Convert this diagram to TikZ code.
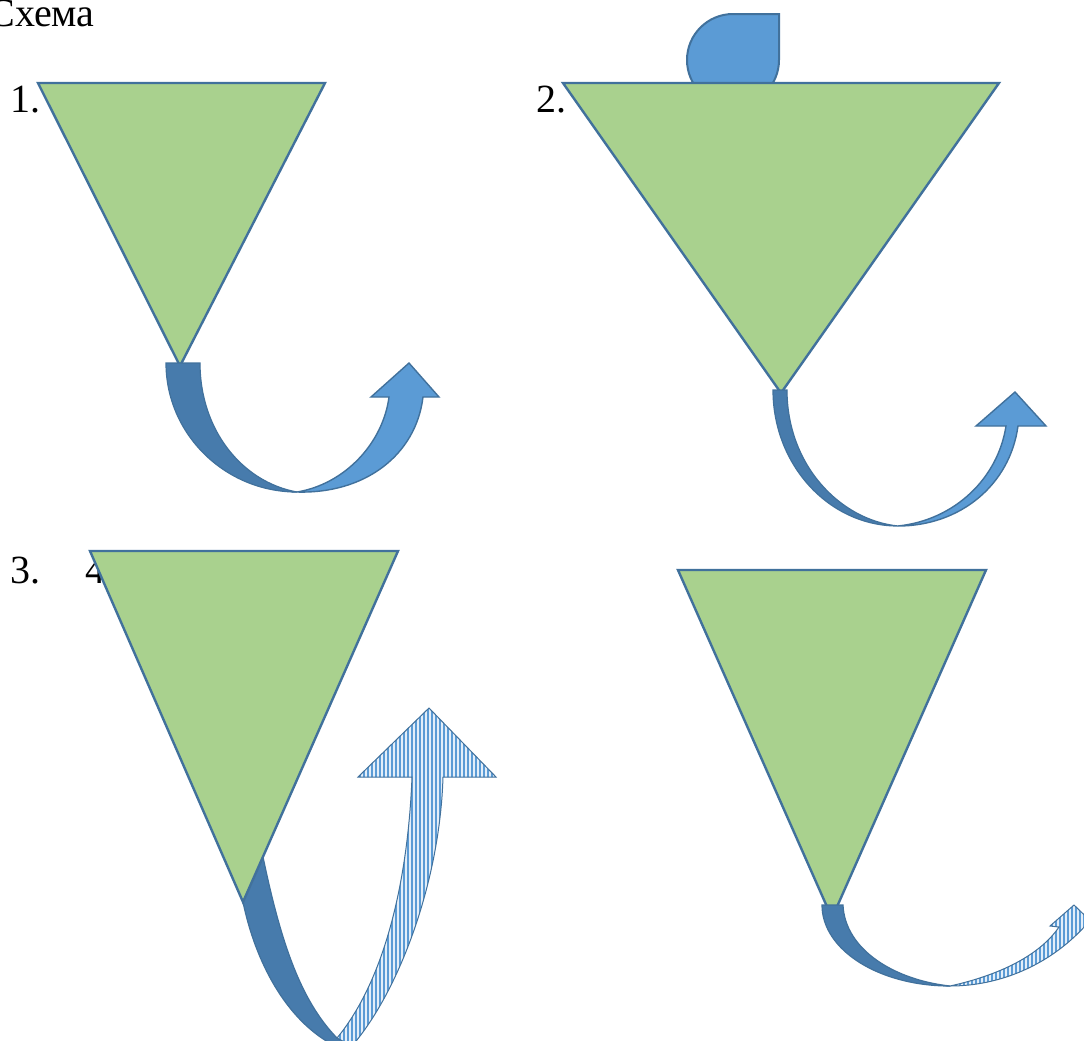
\documentclass[tikz,border=0pt]{standalone}
\usepackage{fontspec}
\setmainfont{Liberation Serif}
\usetikzlibrary{patterns.meta}
\definecolor{leaf}{HTML}{A9D18E}
\definecolor{edgeblue}{HTML}{41719C}
\definecolor{backblue}{HTML}{477BAC}
\definecolor{frontblue}{HTML}{5B9BD5}
\definecolor{paleblue}{HTML}{E3EEF9}

\begin{document}
\begin{tikzpicture}[
  x=0.5pt, y=-0.5pt,
  every node/.style={font=\fontsize{20}{24}\selectfont, inner sep=0pt, anchor=base west},
  funnel/.style={draw=edgeblue, fill=leaf, line width=1.2pt},
  backpart/.style={draw=edgeblue, fill=backblue, line width=0.6pt},
  frontpart/.style={draw=edgeblue, fill=frontblue, line width=0.7pt},
  stripes/.style={draw=edgeblue, line width=0.5pt, preaction={fill=paleblue},
                  pattern={Lines[angle=90, distance=2pt, line width=0.8pt]},
                  pattern color=frontblue}
]
  \useasboundingbox (0,0) rectangle (1084,1041);
  \clip (0,0) rectangle (1084,1041);

  \node (title) at (-12,26) {Схема};

  % Panel 1
  \node (num1) at (10,112) {1.};
  \draw[funnel] (38,83) -- (325,83) -- (180,366) -- cycle;
  \draw[backpart] (166,363) -- (200,363) .. controls (200,430) and (242,482) .. (297,492)
    .. controls (225,492) and (166,434) .. (166,363) -- cycle;
  \draw[frontpart] (297,492) .. controls (365,494) and (416,455) .. (423,397)
    -- (439,397) -- (409,363) -- (371,397) -- (389,397)
    .. controls (383,443) and (345,484) .. (297,492) -- cycle;

  % Panel 2
  \node (num2) at (536,112) {2.};
  \draw[frontpart, line width=1pt] (779,14) -- (733,14) arc[start angle=270, end angle=0, radius=46] -- cycle;
  \draw[funnel] (563,83) -- (999,83) -- (781,393) -- cycle;
  \draw[backpart] (773,390) -- (787,390) .. controls (787,465) and (840,520) .. (898,526)
    .. controls (829,526) and (773,465) .. (773,390) -- cycle;
  \draw[frontpart] (898,526) .. controls (960,526) and (1010,485) .. (1018,426)
    -- (1046,426) -- (1015,392) -- (976,426) -- (1006,426)
    .. controls (998,478) and (955,520) .. (898,526) -- cycle;

  % Panel 3
  \node (num3) at (10,583) {3.};
  \node (num4) at (85,583) {4};
  \draw[backpart] (243,902) -- (262,852) .. controls (280,940) and (300,1000) .. (337,1038)
    -- (352,1046) -- (335,1046) .. controls (285,1020) and (255,960) .. (243,902) -- cycle;
  \draw[funnel] (90,551) -- (398,551) -- (243,902) -- cycle;
  \draw[stripes] (337,1038) .. controls (385,980) and (408,880) .. (412,777)
    -- (358,777) -- (429,708) -- (496,777) -- (443,777)
    .. controls (440,880) and (400,990) .. (352,1046) -- cycle;

  % Panel 4
  \draw[funnel] (678,570) -- (986,570) -- (832,918) -- cycle;
  \draw[backpart] (822,905) -- (843,905) .. controls (845,950) and (895,980) .. (950,986)
    .. controls (879,986) and (822,950) .. (822,905) -- cycle;
  \draw[stripes] (950,986) .. controls (1000,986) and (1050,965) .. (1086,925)
    -- (1102,932) -- (1074,905) -- (1050,926) -- (1059,927)
    .. controls (1040,955) and (1000,975) .. (950,986) -- cycle;
\end{tikzpicture}
\end{document}
